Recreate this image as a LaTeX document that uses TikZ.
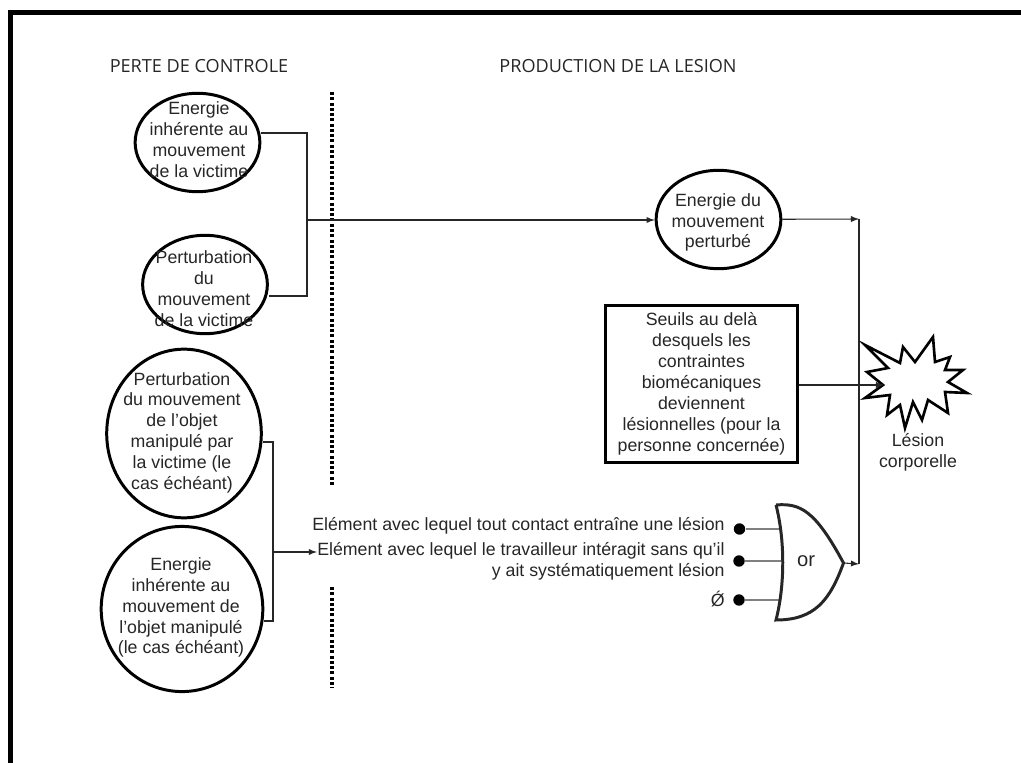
\documentclass[tikz,border=0pt]{standalone}
\usepackage{fontspec}
\setmainfont{Liberation Sans}
\newfontfamily\titlefont{Open Sans}
\tikzset{
	blob/.style={draw, ellipse, line width=1.7pt, inner sep=0pt},
	note/.style={inner sep=0pt, align=center, text=black!85, font=\fontsize{10.1}{11.9}\selectfont},
	headline/.style={inner sep=0pt, text=black!85, font=\titlefont\fontsize{10.3}{12}\selectfont},
	wire/.style={line width=.6pt, black!85},
	gatein/.style={line width=1.5pt, gray},
	border/.style={line width=2pt, dash pattern=on 1.7pt off 1.3pt},
	pin/.style={circle, fill, inner sep=0pt, minimum size=6.5pt}
}
\usetikzlibrary{shapes.geometric}
\begin{document}
\begin{tikzpicture}[x=.02cm, y=-.02cm, >=latex]
	\useasboundingbox (0,0) rectangle (1021,763);
	\draw [line width=2.8pt] (10.5,763) -- (10.5,12.5) -- (1021,12.5);
	\node [headline] (ctrl) at (199,66) {PERTE DE CONTROLE};
	\node [headline] (prod) at (618,66) {PRODUCTION DE LA LESION};
	\draw [border] (332,92) -- (332,487);
	\draw [border] (332,587) -- (332,688);

	\node [blob, minimum width=71pt, minimum height=56pt] (nrgvictim) at (197.5,142.5) {};
	\node [note] (nrgvictimtext) at (199,140) {Energie\\inhérente au\\mouvement\\de la victime};
	\node [blob, minimum width=71pt, minimum height=56pt] (pertvictim) at (205,284.5) {};
	\node [note] (pertvictimtext) at (204,288.5) {Perturbation\\du\\mouvement\\de la victime};
	\node [blob, minimum width=88pt, minimum height=96pt] (pertobjet) at (184,433.5) {};
	\node [note] (pertobjettext) at (182,432.7) {Perturbation\\du mouvement\\de l’objet\\manipulé par\\la victime (le\\cas échéant)};
	\node [blob, minimum width=92pt, minimum height=94pt] (nrgobjet) at (182,609) {};
	\node [note] (nrgobjettext) at (181,607.5) {Energie\\inhérente au\\mouvement de\\l’objet manipulé\\(le cas échéant)};
	\node [blob, minimum width=71pt, minimum height=56pt] (nrgperturb) at (718.5,219.5) {};
	\node [note] (nrgperturbtext) at (718,222.5) {Energie du\\mouvement\\perturbé};

	\node [draw, line width=1.7pt, minimum width=109pt, minimum height=89.5pt, note] (seuils) at (701.5,384) {Seuils au delà\\desquels les\\contraintes\\biomécaniques\\deviennent\\lésionnelles (pour la\\personne concernée)};

	\draw [line width=1.5pt, fill=white] (865,345) -- (900,363) -- (903,347) -- (915,362) -- (933,337) -- (935,362) -- (950,357) -- (945,370) -- (963,370) -- (948,382) -- (967,393) -- (945,392) -- (948,413) -- (928,400) -- (922,420) -- (913,402) -- (905,428) -- (900,405) -- (887,415) -- (890,395) -- (865,398) -- (883,385) -- (867,372) -- (888,368) -- cycle;
	\coordinate (impact) at (884,385);
	\node [note] (lesion) at (918,452) {Lésion\\corporelle};

	\node [note, anchor=east] (elema) at (725,526) {Elément avec lequel tout contact entraîne une lésion};
	\node [note, anchor=north east, align=right] (elemb) at (725,542) {Elément avec lequel le travailleur intéragit sans qu’il\\y ait systématiquement lésion};
	\node [note, anchor=east] (elemc) at (725,599) {Ǿ};
	\node [pin] (pina) at (739.5,529) {};
	\node [pin] (pinb) at (739,561) {};
	\node [pin] (pinc) at (739,600) {};
	\coordinate (ina) at (779,529);
	\coordinate (inb) at (782,561);
	\coordinate (inc) at (779,600);
	\draw [gatein] (pina) -- (ina);
	\draw [gatein, line width=.8pt] (pinb) -- (inb);
	\draw [gatein] (pinc) -- (inc);
	\coordinate (gatetip) at (843.5,563);
	\draw [line width=1.7pt, black!85] (776,505) .. controls (800,503) and (815,510) .. (gatetip) .. controls (830,600) and (815,620) .. (776,620) .. controls (785,585) and (785,540) .. (776,505);
	\node [note, font=\fontsize{11.5}{13}\selectfont] (ortext) at (806,561) {or};

	\coordinate (joina) at (307,133);
	\coordinate (joinb) at (307,296);
	\coordinate (joinc) at (307,220);
	\draw [wire] (nrgvictim.east |- joina) -- (joina) -- (joinb) -- (pertvictim.east |- joinb);
	\draw [wire, ->] (joinc) -- (nrgperturb.west |- joinc);
	\coordinate (joind) at (273,442);
	\coordinate (joine) at (273,621);
	\coordinate (joinf) at (273,552);
	\draw [wire] (pertobjet.east |- joind) -- (joind) -- (joine) -- (nrgobjet.east |- joine);
	\draw [wire, ->] (joinf) -- (joinf -| elemb.west);
	\coordinate (sum) at (859,219);
	\coordinate (sumb) at (859,564);
	\draw [wire, ->] (nrgperturb) -- (sum);
	\draw [wire] (sum) -- (sumb);
	\draw [wire, ->] (gatetip) -- (sumb);
	\draw [wire, ->] (seuils.east |- impact) -- (impact);
\end{tikzpicture}
\end{document}
